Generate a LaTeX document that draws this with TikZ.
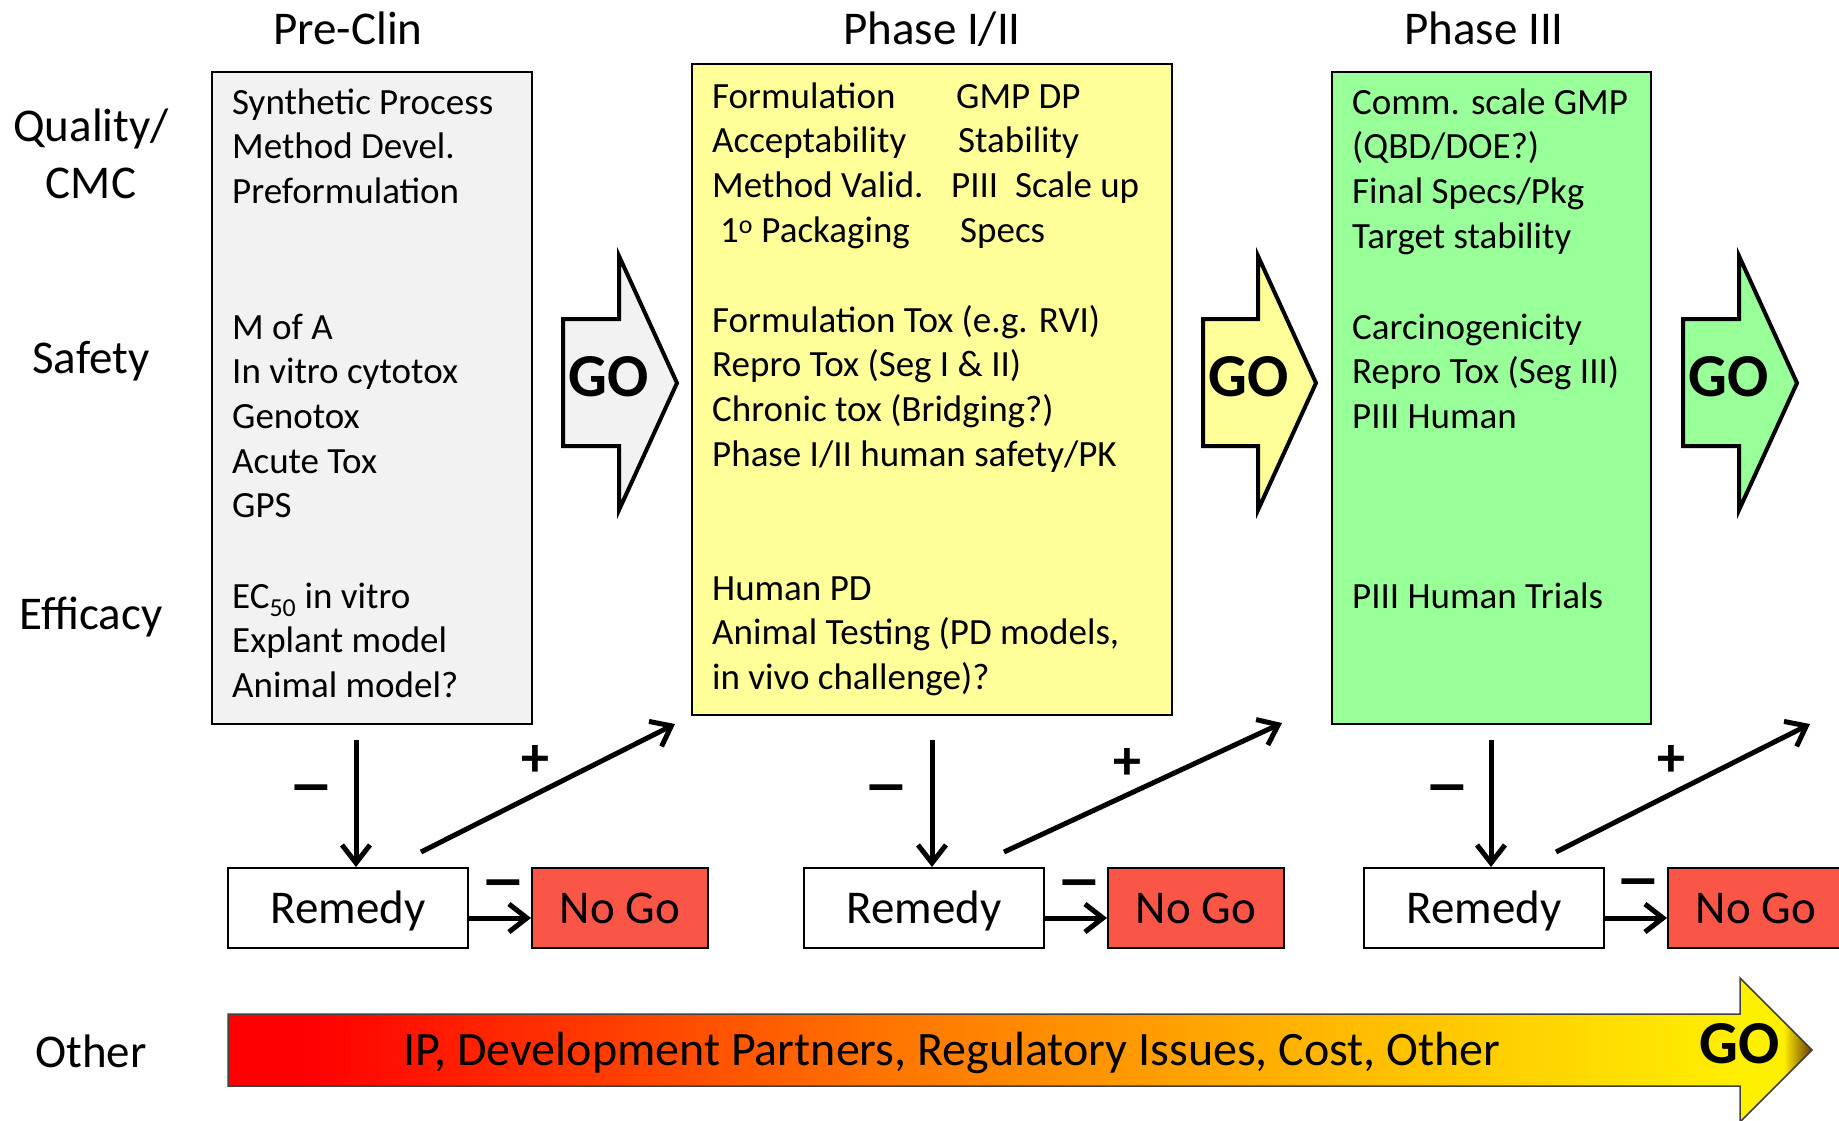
\documentclass[tikz,border=0pt]{standalone}
\usepackage{fontspec}
\setmainfont{Carlito}
\usetikzlibrary{arrows.meta}

\definecolor{preclin}{HTML}{F2F2F2}
\definecolor{phaseone}{HTML}{FFFF99}
\definecolor{phasethree}{HTML}{99FF99}
\definecolor{nogored}{RGB}{250,86,72}
\definecolor{barorange}{RGB}{255,118,0}
\definecolor{barlight}{RGB}{255,185,0}
\definecolor{baryellow}{RGB}{255,240,0}
\definecolor{bartip}{RGB}{105,55,0}

\pgfdeclarehorizontalshading{otherbar}{100bp}{color(0bp)=(red); color(27.5bp)=(red); color(46bp)=(barorange); color(60bp)=(barlight); color(73bp)=(baryellow); color(74.1bp)=(baryellow); color(75bp)=(bartip); color(100bp)=(bartip)}

\begin{document}
\begin{tikzpicture}[x=1bp, y=-1bp]
      \tikzstyle{phasebox} = [rectangle, draw=black, line width=2bp, inner sep=0pt]
      \tikzstyle{boxtext} = [anchor=base west, align=left, inner sep=0pt, font=\fontsize{37bp}{44.7bp}\selectfont]
      \tikzstyle{bigtext} = [anchor=base, align=center, inner sep=0pt, font=\fontsize{47bp}{57.5bp}\selectfont]
      \tikzstyle{decision} = [rectangle, draw=black, line width=2bp, minimum width=240bp, minimum height=80bp, text height=30bp, text depth=0pt, font=\fontsize{47bp}{57bp}\selectfont]
      \tikzstyle{nogo} = [decision, fill=nogored, minimum width=176bp]
      \tikzstyle{goarrow} = [draw=black, line width=4bp, line join=miter]
      \tikzstyle{golabel} = [inner sep=0pt, font=\fontsize{61bp}{70bp}\selectfont\bfseries]
      \tikzstyle{flow} = [line width=5bp, -{Straight Barb[length=18bp,width=28bp]}]
      \tikzstyle{sign} = [anchor=base, inner sep=0pt, font=\fontsize{56bp}{60bp}\selectfont\bfseries]
      \tikzstyle{minus} = [anchor=base, inner sep=0pt, font=\fontsize{88bp}{90bp}\selectfont]

      \clip (0,0) rectangle (1839,1120);

      % column headers and row labels
      \node (hpre) [bigtext] at (348,44) {Pre-Clin};
      \node (hone) [bigtext] at (932,44) {Phase I/II};
      \node (hthree) [bigtext] at (1484,44) {Phase III};
      \node (lquality) [bigtext] at (91,198.5) {Quality/\\CMC};
      \node (lsafety) [bigtext] at (91,373) {Safety};
      \node (lefficacy) [bigtext] at (91,629) {Efficacy};
      \node (lother) [bigtext] at (91,1067) {Other};

      % phase boxes
      \node (preclinbox) [phasebox, fill=preclin, minimum width=320bp, minimum height=652bp] at (372,398) {};
      \node (phaseonebox) [phasebox, fill=phaseone, minimum width=480bp, minimum height=651bp] at (932,389.5) {};
      \node (phasethreebox) [phasebox, fill=phasethree, minimum width=319bp, minimum height=652bp] at (1491.5,398) {};

      % (base = last line)
      \node (preqa) [boxtext] at (232,203.4) {Synthetic Process\\Method Devel.\\Preformulation};
      \node (presafety) [boxtext] at (232,517.8) {M of A\\In vitro cytotox\\Genotox\\Acute Tox\\GPS};
      \node (preeff) [boxtext] at (232,697.4) {EC\textsubscript{50} in vitro\\Explant model\\Animal model?};

      \node (oneqa) [boxtext] at (712,242.1) {Formulation\\Acceptability\\Method Valid.\\\hspace*{8bp}1\textsuperscript{o} Packaging};
      \node (oneqb) [boxtext] at (951,242.1) {\hspace*{5bp}GMP DP\\\hspace*{7bp}Stability\\PIII~~Scale up\\\hspace*{9bp}Specs};
      \node (onesafety) [boxtext] at (712,466.1) {Formulation Tox (e.g. RVI)\\Repro Tox (Seg I \& II)\\Chronic tox (Bridging?)\\Phase I/II human safety/PK};
      \node (oneeff) [boxtext] at (712,689.4) {Human PD\\Animal Testing (PD models,\\in vivo challenge)?};

      \node (threeqa) [boxtext] at (1352,248.1) {Comm. scale GMP\\(QBD/DOE?)\\Final Specs/Pkg\\Target stability};
      \node (threesafety) [boxtext] at (1352,428.4) {Carcinogenicity\\Repro Tox (Seg III)\\PIII Human};
      \node (threeeff) [boxtext] at (1352,608) {PIII Human Trials};

      % go arrows
      \draw [goarrow, fill=preclin] (563,319) -- (619,319) -- (619,256) -- (677,383) -- (619,510) -- (619,446) -- (563,446) -- cycle;
      \draw [goarrow, fill=phaseone] (1203,319) -- (1258,319) -- (1258,256) -- (1316,383) -- (1258,510) -- (1258,446) -- (1203,446) -- cycle;
      \draw [goarrow, fill=phasethree] (1683,319) -- (1739,319) -- (1739,256) -- (1797,383) -- (1739,510) -- (1739,446) -- (1683,446) -- cycle;
      \node (gopre) [golabel] at (609,377) {GO};
      \node (goone) [golabel] at (1249,377) {GO};
      \node (gothree) [golabel] at (1729,377) {GO};

      % remedy / no go
      \node (rem1) [decision] at (348,908) {Remedy};
      \node (nogo1) [nogo] at (620,908) {No Go};
      \node (rem2) [decision] at (924,908) {Remedy};
      \node (nogo2) [nogo] at (1196,908) {No Go};
      \node (rem3) [decision] at (1484,908) {Remedy};
      \node (nogo3) [nogo] at (1756,908) {No Go};

      \coordinate (down1) at (356,740);
      \coordinate (down2) at (932,740);
      \coordinate (down3) at (1491,740);
      \coordinate (from1) at (421,852);
      \coordinate (from2) at (1004,852);
      \coordinate (from3) at (1556,852);
      \coordinate (to1) at (675,724);
      \coordinate (to2) at (1282,723);
      \coordinate (to3) at (1810,724);

      \draw [flow] (down1) -- (down1 |- rem1.north);
      \draw [flow] (down2) -- (down2 |- rem2.north);
      \draw [flow] (down3) -- (down3 |- rem3.north);
      \draw [flow] ([yshift=-10bp]rem1.east) -- ([yshift=-10bp]nogo1.west);
      \draw [flow] ([yshift=-10bp]rem2.east) -- ([yshift=-10bp]nogo2.west);
      \draw [flow] ([yshift=-10bp]rem3.east) -- ([yshift=-10bp]nogo3.west);
      \draw [flow] (from1) -- (to1);
      \draw [flow] (from2) -- (to2);
      \draw [flow] (from3) -- (to3);

      \node (minus1) [minus] at (311,815) {−};
      \node (minus2) [minus] at (886,815) {−};
      \node (minus3) [minus] at (1447,815) {−};
      \node (nominus1) [minus] at (503,910) {−};
      \node (nominus2) [minus] at (1079,910) {−};
      \node (nominus3) [minus] at (1638,909) {−};
      \node (plus1) [sign] at (535,776) {+};
      \node (plus2) [sign] at (1127,779) {+};
      \node (plus3) [sign] at (1671,776) {+};

      % other issues bar
      \shadedraw [shading=otherbar, draw=black!75, line width=1.5bp] (228,1014) -- (1740,1014) -- (1740,978) -- (1812,1050) -- (1740,1122) -- (1740,1086) -- (228,1086) -- cycle;
      \node (otherissues) [bigtext, font=\fontsize{48bp}{57.5bp}\selectfont] at (952,1065) {IP, Development Partners, Regulatory Issues, Cost, Other};
      \node (gofinal) [golabel] at (1740,1044) {GO};
\end{tikzpicture}
\end{document}
